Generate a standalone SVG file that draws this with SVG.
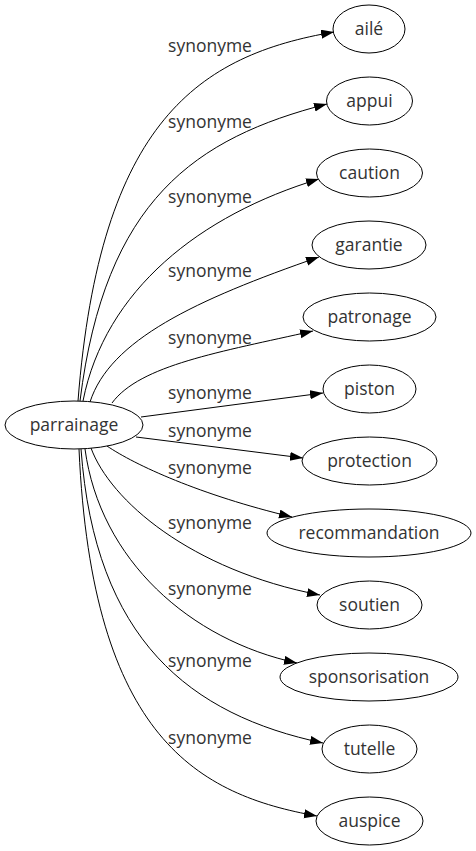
<svg xmlns="http://www.w3.org/2000/svg" width="476" height="851" viewBox="0 0 476 851">
<style>
.n ellipse{fill:#fff;stroke:#000;stroke-width:1}
.n text,.l text{font-family:"Open Sans","Noto Sans",sans-serif;font-size:17.5px;fill:#333;text-anchor:middle}
.e path{fill:none;stroke:#000;stroke-width:1;marker-end:url(#a)}
</style>
<defs>
<marker id="a" markerUnits="userSpaceOnUse" markerWidth="14" markerHeight="10" refX="13" refY="4.5" orient="auto">
<path d="M0,0 L13,4.5 L0,9 Z" fill="#000"/>
</marker>
</defs>
<rect width="476" height="851" fill="#fff"/>
<g id="edges" class="e">
<path d="M78,401 C100,120 200,55 334,32"/>
<path d="M80,401 C105,200 195,138 327,104"/>
<path d="M83,401 C105,290 200,215 319,179"/>
<path d="M90,402 C110,340 195,300 319,257"/>
<path d="M112,403 C140,365 220,352 313,331"/>
<path d="M141,417 L323,393"/>
<path d="M136,437 L303,458"/>
<path d="M107,446 C135,465 200,495 292,517"/>
<path d="M91,448 C110,500 190,570 320,595"/>
<path d="M85,449 C100,560 190,640 297,663"/>
<path d="M81,449 C95,640 190,715 323,743"/>
<path d="M79,449 C92,740 200,795 317,816"/>
</g>
<g id="labels" class="l">
<text x="210" y="52">synonyme</text>
<text x="210" y="128">synonyme</text>
<text x="210" y="203">synonyme</text>
<text x="210" y="277">synonyme</text>
<text x="210" y="344">synonyme</text>
<text x="210" y="399">synonyme</text>
<text x="210" y="437">synonyme</text>
<text x="210" y="474">synonyme</text>
<text x="210" y="529">synonyme</text>
<text x="210" y="595">synonyme</text>
<text x="210" y="667">synonyme</text>
<text x="210" y="744">synonyme</text>
</g>
<g id="parrainage" class="n"><ellipse cx="74" cy="425" rx="69" ry="24"/><text x="74" y="431">parrainage</text></g>
<g id="aile" class="n"><ellipse cx="369" cy="29" rx="36" ry="24"/><text x="369" y="35">ailé</text></g>
<g id="appui" class="n"><ellipse cx="369.5" cy="101" rx="43" ry="24"/><text x="369.5" y="107">appui</text></g>
<g id="caution" class="n"><ellipse cx="369.5" cy="173" rx="53" ry="24"/><text x="369.5" y="179">caution</text></g>
<g id="garantie" class="n"><ellipse cx="369" cy="245" rx="57" ry="24"/><text x="369" y="251">garantie</text></g>
<g id="patronage" class="n"><ellipse cx="369.5" cy="317" rx="66.5" ry="24"/><text x="369.5" y="323">patronage</text></g>
<g id="piston" class="n"><ellipse cx="369.5" cy="389" rx="46.5" ry="24"/><text x="369.5" y="395">piston</text></g>
<g id="protection" class="n"><ellipse cx="369.5" cy="461" rx="67.5" ry="24"/><text x="369.5" y="467">protection</text></g>
<g id="recommandation" class="n"><ellipse cx="369" cy="533" rx="102" ry="24"/><text x="369" y="539">recommandation</text></g>
<g id="soutien" class="n"><ellipse cx="369.5" cy="605" rx="52.5" ry="24"/><text x="369.5" y="611">soutien</text></g>
<g id="sponsorisation" class="n"><ellipse cx="369" cy="677" rx="89" ry="24"/><text x="369" y="683">sponsorisation</text></g>
<g id="tutelle" class="n"><ellipse cx="369.5" cy="749" rx="47.5" ry="24"/><text x="369.5" y="755">tutelle</text></g>
<g id="auspice" class="n"><ellipse cx="369.5" cy="821" rx="53.5" ry="24"/><text x="369.5" y="827">auspice</text></g>
</svg>
